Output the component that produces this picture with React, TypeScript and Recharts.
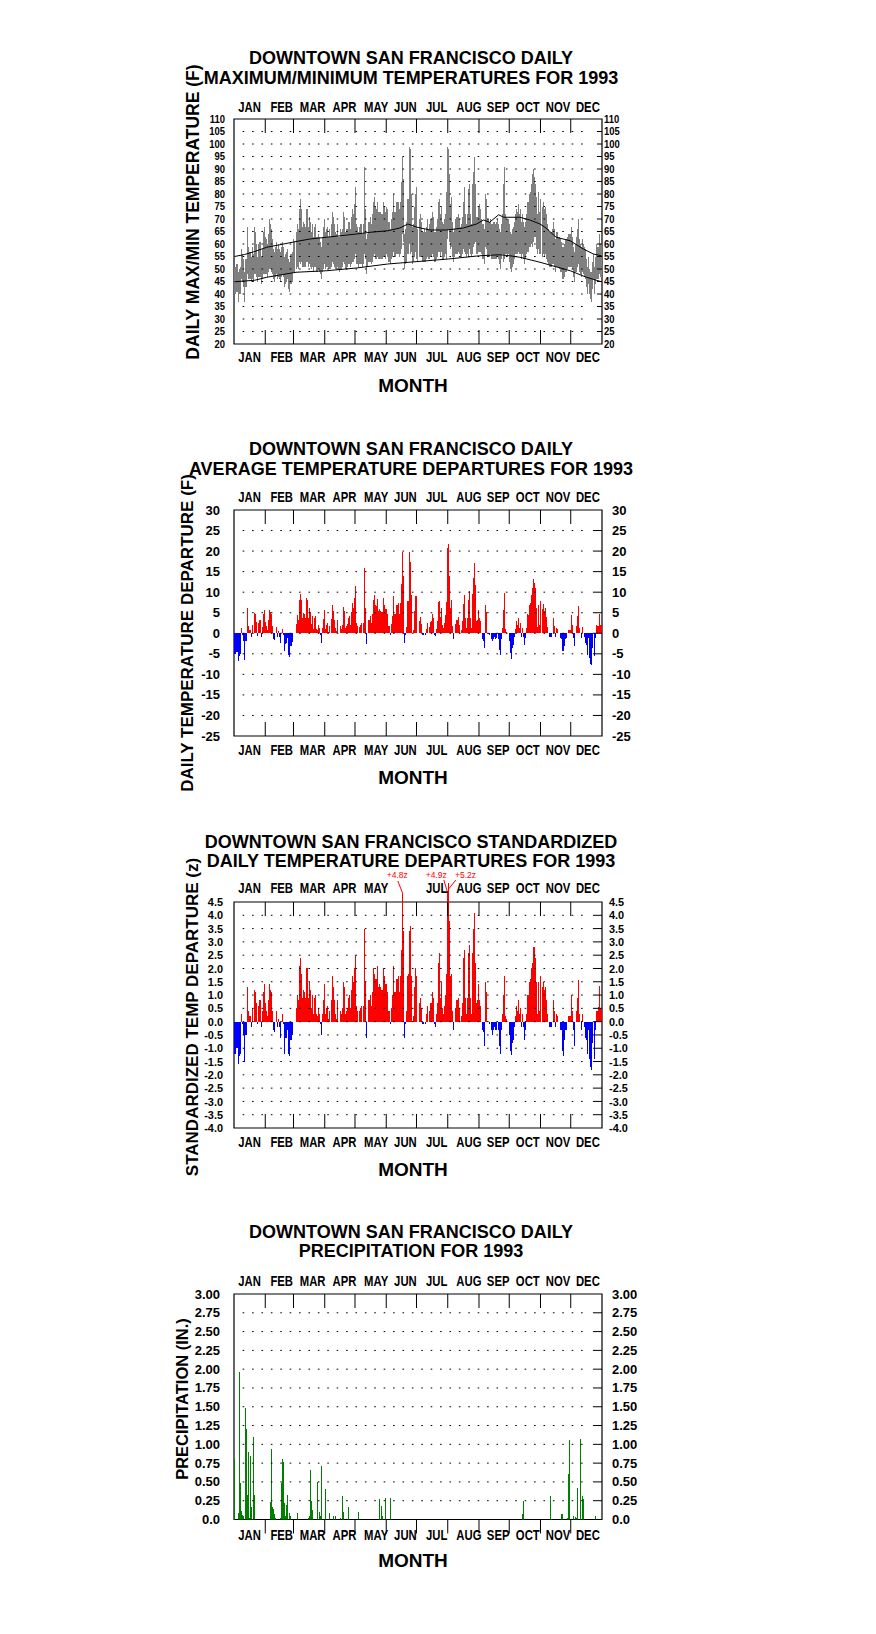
import React from 'react';
import {
  ComposedChart, Bar, Line, XAxis, YAxis, ReferenceLine, ReferenceArea, Cell,
} from 'recharts';

const FONT = "'Liberation Sans', Arial, Helvetica, sans-serif";
const PAGE_W = 876;
const PLOT_L = 234;
const PLOT_R = 602;
const Y_AXIS_W = 20;
const X_AXIS_H = 10;

const MONTH_NAMES = ['JAN', 'FEB', 'MAR', 'APR', 'MAY', 'JUN', 'JUL', 'AUG', 'SEP', 'OCT', 'NOV', 'DEC'];
const MONTH_STARTS = [31, 59, 90, 120, 151, 181, 212, 243, 273, 304, 334];
const MONTH_LABEL_DAYS = [15.5, 47.3, 78, 109.5, 141, 170, 201, 233, 262, 291.4, 321.4, 351];

// daily max / min temperature (F), one value per day of 1993
const DAILY_MAX = [
  51, 51, 52, 52, 49, 50, 51, 58, 56, 54, 49, 54, 54, 67, 59, 57, 57, 55, 59, 56, 67, 65, 60, 55, 60, 61, 61, 55, 58, 65, 67,
  63, 62, 60, 64, 70, 68, 66, 62, 58, 57, 59, 61, 58, 60, 58, 57, 59, 61, 59, 55, 56, 57, 58, 54, 53, 56, 56, 57,
  62, 61, 65, 68, 66, 74, 78, 74, 67, 69, 68, 67, 74, 74, 67, 71, 69, 65, 68, 63, 67, 68, 63, 63, 64, 63, 61, 59, 63, 67, 70,
  65, 66, 67, 63, 66, 63, 68, 73, 71, 68, 65, 64, 68, 63, 63, 66, 65, 66, 73, 71, 65, 66, 66, 69, 69, 66, 71, 74, 72, 76,
  83, 68, 67, 65, 67, 68, 68, 64, 68, 91, 74, 62, 64, 69, 69, 71, 68, 72, 77, 79, 75, 74, 77, 73, 73, 73, 72, 72, 77, 75, 73,
  75, 74, 69, 69, 66, 70, 73, 80, 73, 73, 77, 77, 77, 74, 77, 85, 95, 86, 64, 66, 69, 78, 78, 99, 98, 80, 67, 68, 75, 80,
  83, 66, 70, 72, 69, 65, 65, 66, 65, 67, 70, 66, 68, 70, 70, 73, 71, 65, 65, 67, 70, 77, 78, 72, 75, 69, 68, 70, 72, 81, 99,
  98, 88, 76, 79, 69, 65, 66, 70, 71, 71, 72, 70, 67, 68, 71, 77, 83, 72, 68, 72, 82, 84, 72, 68, 84, 89, 95, 84, 71, 71, 75,
  76, 74, 70, 68, 68, 66, 80, 78, 70, 70, 69, 70, 68, 68, 69, 69, 68, 69, 70, 68, 66, 65, 68, 72, 84, 91, 72, 70, 70, 70,
  68, 65, 64, 66, 67, 69, 72, 74, 73, 76, 72, 74, 69, 72, 69, 67, 69, 72, 77, 77, 80, 81, 84, 88, 90, 87, 84, 79, 72, 81, 73,
  78, 75, 77, 74, 75, 72, 68, 66, 65, 65, 65, 66, 69, 66, 62, 65, 65, 63, 63, 62, 61, 59, 59, 60, 62, 62, 63, 64, 64, 64,
  67, 63, 59, 57, 60, 63, 66, 70, 62, 60, 59, 62, 60, 59, 58, 54, 51, 55, 50, 49, 49, 53, 56, 51, 55, 60, 59, 59, 64, 60, 60,
];
const DAILY_MIN = [
  40, 40, 41, 41, 37, 40, 40, 46, 45, 43, 37, 43, 43, 48, 46, 46, 46, 45, 46, 45, 48, 48, 47, 45, 47, 47, 47, 44, 46, 48, 48,
  48, 48, 47, 49, 50, 50, 49, 48, 46, 45, 47, 48, 46, 47, 46, 45, 47, 48, 47, 43, 44, 45, 46, 42, 41, 44, 44, 45,
  49, 49, 50, 51, 50, 53, 52, 53, 51, 51, 51, 51, 53, 53, 51, 52, 51, 50, 51, 49, 51, 51, 49, 49, 50, 49, 48, 46, 49, 50, 52,
  50, 51, 51, 50, 50, 50, 51, 53, 52, 51, 50, 50, 51, 50, 49, 50, 50, 51, 53, 52, 50, 50, 51, 52, 52, 51, 52, 53, 53, 54,
  56, 52, 52, 51, 52, 52, 52, 51, 52, 56, 54, 48, 51, 53, 53, 53, 52, 53, 55, 56, 54, 54, 55, 54, 54, 54, 54, 54, 55, 55, 54,
  56, 55, 53, 53, 52, 54, 55, 57, 55, 55, 56, 56, 56, 55, 56, 58, 64, 61, 50, 52, 53, 56, 56, 60, 56, 57, 52, 53, 55, 57,
  54, 53, 55, 55, 55, 53, 53, 53, 53, 54, 55, 54, 54, 55, 55, 56, 55, 53, 53, 54, 55, 57, 57, 55, 57, 54, 54, 55, 56, 54, 62,
  66, 61, 58, 59, 55, 53, 55, 56, 56, 56, 57, 56, 55, 55, 56, 58, 57, 56, 55, 56, 55, 58, 56, 55, 56, 59, 60, 61, 56, 56, 57,
  57, 57, 56, 54, 54, 52, 59, 58, 55, 55, 55, 56, 54, 54, 54, 54, 54, 54, 55, 54, 52, 50, 54, 56, 53, 54, 56, 56, 55, 56,
  53, 50, 49, 51, 52, 54, 56, 56, 56, 57, 56, 56, 54, 56, 54, 52, 54, 56, 57, 57, 59, 59, 60, 59, 61, 63, 63, 58, 56, 58, 56,
  56, 55, 56, 55, 56, 54, 53, 52, 51, 51, 51, 52, 52, 51, 49, 51, 51, 51, 50, 49, 49, 46, 46, 47, 49, 49, 50, 51, 51, 51,
  51, 50, 47, 45, 49, 49, 51, 52, 49, 48, 47, 49, 48, 47, 46, 43, 40, 44, 40, 38, 37, 42, 46, 40, 44, 46, 46, 46, 48, 47, 47,
];

// normal max / min curves, read at a set of days
const NORMAL_MAX_DAYS = [0, 10, 20, 32, 45, 61, 75, 91, 105, 121, 135, 152, 164, 172, 181, 194, 210, 227, 240, 247, 253, 262, 267, 283, 293, 303, 309, 319, 333, 346, 356, 364];
const NORMAL_MAX = [55, 55.8, 57, 58.7, 59.7, 61, 62, 62.7, 63.3, 64, 64.7, 65.3, 66.4, 68, 66.7, 65.6, 65.6, 66.4, 68, 69.6, 68.7, 71.7, 70.7, 70.7, 69.6, 68, 66.4, 62.7, 61.3, 58, 56, 55.3];
const NORMAL_MIN_DAYS = [0, 20, 32, 45, 61, 91, 121, 152, 182, 212, 243, 263, 273, 283, 303, 318, 333, 349, 364];
const NORMAL_MIN = [44.9, 45.5, 46.7, 47.6, 48.7, 49.3, 50.4, 52, 53, 54, 55.3, 55.7, 55.3, 54.7, 52.7, 51, 49.3, 46.7, 44.9];

// daily average temperature departure (F)
const DEPARTURE = [
  -5, -5, -4.5, -4.5, -6.8, -5.6, -5, 1.2, -0.3, -2, -6.6, -2, -2,
  6.2, 1.7, 0.7, 0.9, -0.8, 2, 0, 5, 4.7, 2.8, -0.6, 2.5, 3.2, 3.2, -1, 1.5, 4.7, 5.7, 2.8, 1.7, 0.9, 3.3, 5.7, 5.2, 4.7,
  1.7, -1.3, -1.6, 0, 1.5, -0.8, 0.5, -0.8, -2.4, 0, 1.1, -0.3, -4.4, -2.6, -2.4, -1.1, -5.2, -5.7, -3.2, -3.2, -2.1,
  0, 0,
  2.3, 4.4, 3.2, 8.2, 9.6, 8.2, 3.6, 5, 4.6, 3.8,
  8.6, 8.2, 3.8, 6.2, 5.2, 2.3, 4.1, 1.1, 3.8, 4.1,
  1.1, 0.8, 2, 1.3, -0.5, -2.3, 1.3, 3.4, 5.7, 1.1,
  2, 2.5, 0.2, 1.7, 0, 3.5, 7, 5.4, 3.3, 1.3,
  0.5, 3.2, 0, 0, 1.7, 1.1, 2, 6.4, 5.4, 1.3,
  1.7, 2.3, 3.8, 4.1, 2, 5.2, 7.3, 6.2, 8.6, 11.6,
  2.5, 1.7, 0, 1.6, 2, 2.5, 0, 2.5, 15.8, 6.2,
  -2.6, 0, 3.3, 3.3, 4.1, 2.5, 4.7, 8.2, 9.4, 7,
  6.6, 8.4, 5.4, 6, 5.4, 5.2, 5.2, 8.6, 7, 6,
  6, 4.7, 1.7, 1.7, -0.3, 2.3, 4.1, 9, 4.6, 4.6,
  6.8, 6.8, 7.3, 4.7, 7.3, 12, 19.8, 14, -2.4, -0.3,
  1.5, 7.8, 7.8, 19.8, 17.4, 9.3, 0, 0.9, 5.4, 9, 9,
  0, 3.1, 3.9, 2.3, -0.3, -0.5, 0, -0.3, 1.1, 2.5,
  0, 1.5, 2.8, 2.9, 4.7, 3.8, -0.5, -0.7, 1.1, 2.9,
  7.6, 7.8, 3.9, 6.2, 2, 1.3, 2.5, 4.4, 7.6, 20.8,
  21.7, 14, 6.2, 8.1, 1.7, -1.5, 0, 2.3, 3.2, 3.2,
  3.9, 2, 0, 0.9, 3.1, 7.1, 9.2, 3.7, 1.3, 3.6,
  8.1, 10.4, 3.7, 1.3, 9.6, 13.5, 17.1, 11.8, 2.9, 3.3,
  5.7, 3.7, 2.9, 0, -1.5, -1.8, -3.7, 7, 5.2, 0,
  -0.2, -0.5, 0, -1.5, -2, -1.3, -1, -1.5, -1.1, 0,
  -1.5, -4, -5.2, -1.5, 1.3, 5.7, 9.8, 1.1, 0.3, 0,
  0, -2, -4.8, -6.2, -3.6, -2.8, -1, 1.1, 2.9, 2,
  3.7, 1.3, 2.5, -1, 1.3, -1, -2.8, -1.1, 1.3, 4.7,
  4.4, 7, 7.4, 9.4, 10.9, 13.1, 12.3, 11, 6.2, 1.5,
  7, 2, 7.8, 5.8, 7.1, 5.5, 6.2, 3.9, 1.5, 0,
  -1, -1, -1, 0, 3.7, 1.7, -1, 1.3, 1.1, 0,
  0, -1.1, -1.5, -4.2, -4.2, -3.2, -1.3, -1.1, 0, 0.8,
  0.8, 0.9, 4.4, 2, -1.1, -3.2, 0, 1.7, 4.1, 6.6,
  1.3, 0, -1.1, 1.5, 0, -1, -2.4, -2.9, -5.2, -1.1,
  -6, -7.5, -7.8, -3.6, 0, -5.6, -1.1, 2, 1.7, 1.7, 4.7, 2, 2,
];

// standardized departure (z)
const ZSCORE = [
  -1.2, -1.2, -1.0, -1.0, -1.6, -1.3, -1.2, 0.3, -0.1, -0.5, -1.5, -0.5, -0.5,
  1.3, 0.4, 0.2, 0.2, -0.2, 0.5, 0, 1.2, 1.1, 0.7, -0.1, 0.6, 0.8, 0.8, -0.2, 0.4, 1.1, 1.4, 0.7, 0.4, 0.2, 0.8, 1.4, 1.2, 1.1,
  0.4, -0.3, -0.4, 0, 0.4, -0.2, 0.1, -0.2, -0.6, 0, 0.3, -0.1, -1.2, -0.6, -0.6, -0.3, -1.2, -1.3, -0.7, -0.7, -0.5,
  0, 0,
  0.5, 1.0, 0.8, 2.1, 2.4, 1.8, 0.9, 1.2, 1.1, 0.9,
  2.0, 2.0, 0.9, 1.5, 1.2, 0.5, 1.0, 0.3, 0.9, 1.0,
  0.3, 0.2, 0.5, 0.3, -0.1, -0.5, 0.3, 0.8, 1.4, 0.3,
  0.5, 0.6, 0.1, 0.4, 0, 0.8, 1.7, 1.3, 0.8, 0.3,
  0.1, 0.8, 0, 0, 0.4, 0.3, 0.5, 1.5, 1.3, 0.3,
  0.4, 0.5, 0.9, 1.0, 0.5, 1.2, 1.7, 1.5, 2.0, 2.5,
  0.6, 0.4, 0, 0.4, 0.5, 0.6, 0, 0.6, 3.5, 1.5,
  -0.6, 0, 0.8, 0.8, 1.0, 0.6, 1.1, 2.0, 1.8, 1.6,
  1.6, 2.1, 1.3, 1.4, 1.3, 1.2, 1.2, 2.0, 1.7, 1.4,
  1.4, 1.1, 0.4, 0.4, -0.1, 0.5, 1.0, 2.1, 1.1, 1.1,
  1.6, 1.6, 1.7, 1.1, 1.7, 2.7, 4.8, 3.4, -0.6, -0.1,
  0.4, 1.7, 1.8, 3.4, 3.6, 1.7, 0, 0.2, 1.3, 2.0, 1.7,
  0, 0.7, 0.9, 0.5, -0.1, -0.1, 0, -0.1, 0.3, 0.6,
  0, 0.4, 0.7, 0.7, 1.1, 0.9, -0.1, -0.2, 0.3, 0.7,
  2.2, 2.6, 0.9, 1.5, 0.5, 0.3, 0.6, 1.0, 1.8, 4.9,
  5.2, 3.8, 1.7, 1.8, 0.4, -0.3, 0, 0.5, 0.8, 0.8,
  0.9, 0.5, 0, 0.2, 0.7, 2.4, 2.7, 0.9, 0.3, 0.9,
  2.6, 2.9, 0.9, 0.3, 2.6, 3.5, 4.1, 2.2, 0.7, 0.8,
  1.4, 0.8, 0.6, 0, -0.3, -0.4, -0.9, 1.5, 1.1, 0,
  0, -0.1, 0, -0.3, -0.5, -0.3, -0.2, -0.3, -0.3, 0,
  -0.3, -0.9, -1.2, -0.3, 0.3, 1.0, 1.7, 0.2, 0.1, 0,
  0, -0.5, -1.1, -1.25, -0.8, -0.7, -0.2, 0.2, 0.6, 0.4,
  0.8, 0.3, 0.5, -0.2, 0.3, -0.2, -0.7, -0.3, 0.3, 1.0,
  1.0, 1.5, 1.6, 2.0, 2.2, 2.8, 2.8, 2.4, 1.5, 0.3,
  1.5, 0.4, 1.7, 1.3, 1.5, 1.2, 1.3, 0.8, 0.3, 0,
  -0.2, -0.2, -0.2, 0, 0.8, 0.4, -0.2, 0.3, 0.2, 0,
  0, -0.3, -0.3, -1.1, -1.3, -0.7, -0.3, -0.3, 0, 0.2,
  0.2, 0.2, 1.0, 0.4, -0.3, -0.9, 0, 0.4, 0.9, 1.55,
  0.3, 0, -0.3, 0.3, 0, -0.2, -0.6, -0.7, -1.2, -0.3,
  -1.4, -1.7, -1.8, -0.8, 0, -1.4, -0.3, 0.4, 0.4, 0.55, 1.35, 0.5, 0.5,
];

// precipitation (in.), only the days with rain
const PRECIP_DAYS = [
  0, 4, 5, 6, 7, 8, 9, 11, 12, 13, 14, 15, 16, 17, 18, 19, 20, 36, 37, 38, 39, 40, 41,
  46, 47, 48, 49, 50, 51, 52, 53, 55, 56, 62, 73, 74, 75, 76, 77, 82, 84, 85, 86, 90,
  94, 98, 100, 105, 107, 108, 113, 123, 144, 146, 147, 150, 155, 286, 287, 313, 314,
  324, 325, 330, 331, 332, 336, 338, 339, 340, 343, 345, 346, 358,
];
const PRECIP_IN = [
  0.80, 0.09, 1.96, 0.49, 0.11, 0.06, 0.04, 1.48, 1.20, 0.32, 0.90, 0.02, 0.84, 0.17, 0.01, 1.10, 0.32, 0.23, 0.94, 0.16, 0.14, 0.07, 0.02,
  0.02, 0.48, 0.81, 0.77, 0.22, 0.04, 0.19, 0.32, 0.08, 0.05, 0.08, 0.02, 0.04, 0.66, 0.24, 0.12, 0.50, 0.10, 0.04, 0.71, 0.40,
  0.08, 0.04, 0.04, 0.02, 0.31, 0.10, 0.16, 0.10, 0.27, 0.18, 0.05, 0.28, 0.28, 0.07, 0.24, 0.31, 0.01,
  0.07, 0.07, 0.02, 0.61, 1.06, 0.04, 0.03, 0.02, 0.42, 1.07, 0.31, 0.27, 0.04,
];

const TEMP_TICKS = [20, 25, 30, 35, 40, 45, 50, 55, 60, 65, 70, 75, 80, 85, 90, 95, 100, 105, 110];
const DEP_TICKS = [-25, -20, -15, -10, -5, 0, 5, 10, 15, 20, 25, 30];
const Z_TICKS = [-4, -3.5, -3, -2.5, -2, -1.5, -1, -0.5, 0, 0.5, 1, 1.5, 2, 2.5, 3, 3.5, 4, 4.5];
const PRECIP_TICKS = [0, 0.25, 0.5, 0.75, 1, 1.25, 1.5, 1.75, 2, 2.25, 2.5, 2.75, 3];

const TITLES = [
  ['DOWNTOWN SAN FRANCISCO DAILY', 'MAXIMUM/MINIMUM TEMPERATURES FOR 1993'],
  ['DOWNTOWN SAN FRANCISCO DAILY', 'AVERAGE TEMPERATURE DEPARTURES FOR 1993'],
  ['DOWNTOWN SAN FRANCISCO STANDARDIZED', 'DAILY TEMPERATURE DEPARTURES FOR 1993'],
  ['DOWNTOWN SAN FRANCISCO DAILY', 'PRECIPITATION FOR 1993'],
];
const Y_TITLES = [
  'DAILY MAX/MIN TEMPERATURE (F)',
  'DAILY TEMPERATURE DEPARTURE (F)',
  'STANDARDIZED TEMP DEPARTURE (z)',
  'PRECIPITATION (IN.)',
];
const Z_NOTES = ['+4.8z', '+4.9z', '+5.2z'];

// page layout (absolute px)
const TITLE_Y = [[64, 84], [455, 475], [848, 867], [1238, 1257]];
const MONTH_Y = [392, 784, 1176, 1567];
const Y_TITLE_POS = [[193, 212], [187.5, 633], [192, 1017], [181.5, 1399]];
const Y_TITLE_SIZE = [17.5, 17, 17, 16.5];

// plot box spans PLOT_L..PLOT_R; axes take Y_AXIS_W on the left and X_AXIS_H below
const margin = (top: number, bottom: number) => ({
  top, bottom: bottom - X_AXIS_H, left: PLOT_L - Y_AXIS_W, right: PAGE_W - PLOT_R,
});

const monthTick = (topY: number, bottomY: number, skipTop: string[] = []) => (p: any) => {
  const name = MONTH_NAMES[MONTH_LABEL_DAYS.indexOf(p.payload.value)] ?? '';
  const style = { fontFamily: FONT, fontWeight: 700, fontSize: 14.5, fill: '#000' };
  return (
    <g>
      {!skipTop.includes(name) && (
        <text transform={`translate(${p.x},${topY}) scale(0.78,1)`} textAnchor="middle" {...style}>{name}</text>
      )}
      <text transform={`translate(${p.x},${bottomY}) scale(0.78,1)`} textAnchor="middle" {...style}>{name}</text>
    </g>
  );
};

const valueTick = (leftX: number, rightX: number, size: number, sx: number, fmt: (v: number) => string) => (p: any) => {
  const label = fmt(p.payload.value);
  const style = { fontFamily: FONT, fontWeight: 700, fontSize: size, fill: '#000' };
  return (
    <g>
      <text transform={`translate(${leftX},${p.y}) scale(${sx},1)`} textAnchor="end" dominantBaseline="central" {...style}>{label}</text>
      <text transform={`translate(${rightX},${p.y}) scale(${sx},1)`} textAnchor="start" dominantBaseline="central" {...style}>{label}</text>
    </g>
  );
};

function gridRows(values: number[], tickFrom: number) {
  return values.flatMap((v) => [
    <ReferenceLine key={`g${v}`} segment={[{ x: 8.6, y: v }, { x: 351, y: v }]} stroke="#000" strokeDasharray="1.6 7.8" ifOverflow="visible" />,
    <ReferenceLine key={`r${v}`} segment={[{ x: tickFrom, y: v }, { x: 365, y: v }]} stroke="#000" ifOverflow="visible" />,
  ]);
}

function monthTickLines(hi: number, lo: number, len: number, bottomOut = false) {
  return MONTH_STARTS.flatMap((m) => [
    <ReferenceLine key={`t${m}`} segment={[{ x: m, y: hi }, { x: m, y: hi - len }]} stroke="#000" ifOverflow="visible" />,
    <ReferenceLine key={`b${m}`} segment={[{ x: m, y: lo }, { x: m, y: bottomOut ? lo - len : lo + len }]} stroke="#000" ifOverflow="visible" />,
  ]);
}

const frame = (lo: number, hi: number) => (
  <ReferenceArea x1={0} x2={365} y1={lo} y2={hi} fill="none" stroke="#000" strokeWidth={1.2} ifOverflow="visible" />
);

const xAxis = (topY: number, bottomY: number, skipTop: string[] = []) => (
  <XAxis dataKey="x" type="number" domain={[0, 365]} ticks={MONTH_LABEL_DAYS} interval={0} height={X_AXIS_H}
    axisLine={false} tickLine={false} tick={monthTick(topY, bottomY, skipTop)} />
);

const yAxis = (domain: [number, number], ticks: number[], tick: (p: any) => React.ReactElement) => (
  <YAxis type="number" domain={domain} ticks={ticks} interval={0} width={Y_AXIS_W} allowDataOverflow
    axisLine={false} tickLine={false} tick={tick} />
);

const chartProps = { width: PAGE_W, barCategoryGap: 0, barGap: 0 };

function TempRangePanel() {
  const data = DAILY_MAX.map((hi, i) => ({ x: i + 0.5, range: [DAILY_MIN[i], hi] }));
  const normMax = NORMAL_MAX_DAYS.map((d, i) => ({ x: d + 0.5, v: NORMAL_MAX[i] }));
  const normMin = NORMAL_MIN_DAYS.map((d, i) => ({ x: d + 0.5, v: NORMAL_MIN[i] }));
  return (
    <div style={{ position: 'absolute', left: 0, top: 0 }}>
      <ComposedChart {...chartProps} height={400} data={data} margin={margin(119, 56)}>
        {xAxis(112, 362)}
        {yAxis([20, 110], TEMP_TICKS, valueTick(225, 604, 11, 0.86, (v) => String(v)))}
        {gridRows(TEMP_TICKS.slice(1, -1), 360)}
        <Bar dataKey="range" fill="#808080" isAnimationActive={false} shapeRendering="crispEdges" />
        <Line data={normMax} dataKey="v" type="linear" stroke="#000" strokeWidth={1} dot={false} activeDot={false} isAnimationActive={false} />
        <Line data={normMin} dataKey="v" type="linear" stroke="#000" strokeWidth={1} dot={false} activeDot={false} isAnimationActive={false} />
        {monthTickLines(110, 20, 5.6)}
        {frame(20, 110)}
      </ComposedChart>
    </div>
  );
}

function DeparturePanel() {
  const data = DEPARTURE.map((v, i) => ({ x: i + 0.5, v }));
  return (
    <div style={{ position: 'absolute', left: 0, top: 400 }}>
      <ComposedChart {...chartProps} height={400} data={data} margin={margin(110, 64)}>
        {xAxis(102, 355)}
        {yAxis([-25, 30], DEP_TICKS, valueTick(220, 612, 13, 1, (v) => String(v)))}
        {gridRows(DEP_TICKS.slice(1, -1), 356)}
        <Bar dataKey="v" isAnimationActive={false} shapeRendering="crispEdges">
          {data.map((d, i) => <Cell key={i} fill={d.v >= 0 ? '#ff0000' : '#0000ff'} />)}
        </Bar>
        {monthTickLines(30, -25, 3.4)}
        {frame(-25, 30)}
      </ComposedChart>
    </div>
  );
}

function ZScorePanel() {
  const data = ZSCORE.map((v, i) => ({ x: i + 0.5, v }));
  return (
    <div style={{ position: 'absolute', left: 0, top: 800 }}>
      <ComposedChart {...chartProps} height={400} data={data} margin={margin(70.1, 72)}>
        {xAxis(93, 347, ['JUN'])}
        {yAxis([-4, 5.7], Z_TICKS, valueTick(223, 609, 11.5, 0.95, (v) => v.toFixed(1)))}
        {gridRows(Z_TICKS.slice(1, -1), 356)}
        <Bar dataKey="v" isAnimationActive={false} shapeRendering="crispEdges">
          {data.map((d, i) => <Cell key={i} fill={d.v >= 0 ? '#ff0000' : '#0000ff'} />)}
        </Bar>
        {monthTickLines(4.5, -4, 0.53)}
        {frame(-4, 4.5)}
        <ReferenceLine segment={[{ x: 162.5, y: 5.29 }, { x: 167.5, y: 4.8 }]} stroke="#ff0000" ifOverflow="visible" />
        <ReferenceLine segment={[{ x: 208.1, y: 5.33 }, { x: 211.5, y: 4.9 }]} stroke="#ff0000" ifOverflow="visible" />
        <ReferenceLine segment={[{ x: 220, y: 5.33 }, { x: 213.2, y: 5.0 }]} stroke="#ff0000" ifOverflow="visible" />
      </ComposedChart>
    </div>
  );
}

function PrecipPanel() {
  const data = PRECIP_DAYS.map((d, i) => ({ x: d + 0.5, v: PRECIP_IN[i] }));
  return (
    <div style={{ position: 'absolute', left: 0, top: 1200 }}>
      <ComposedChart {...chartProps} height={434} data={data} margin={margin(94, 114.5)}>
        {xAxis(85.5, 340)}
        {yAxis([0, 3], PRECIP_TICKS, valueTick(220, 612, 13, 1, (v) => (v === 0 ? '0.0' : v.toFixed(2))))}
        {gridRows(PRECIP_TICKS.slice(1, -1), 356)}
        <Bar dataKey="v" fill="#008000" isAnimationActive={false} shapeRendering="crispEdges" />
        {monthTickLines(3, 0, 0.186, true)}
        {frame(0, 3)}
      </ComposedChart>
    </div>
  );
}

function TextLayer() {
  const bold = { fontFamily: FONT, fontWeight: 700, fill: '#000' };
  return (
    <svg width={PAGE_W} height={1634} style={{ position: 'absolute', left: 0, top: 0, pointerEvents: 'none' }}>
      {TITLES.map((lines, i) => lines.map((t, j) => (
        <text key={`t${i}${j}`} x={411} y={TITLE_Y[i][j]} textAnchor="middle" fontSize={18} {...bold}>{t}</text>
      )))}
      {MONTH_Y.map((y, i) => (
        <text key={`m${i}`} x={413} y={y} textAnchor="middle" fontSize={19} {...bold}>MONTH</text>
      ))}
      {Y_TITLES.map((t, i) => (
        <text key={`y${i}`} transform={`translate(${Y_TITLE_POS[i][0]},${Y_TITLE_POS[i][1]}) rotate(-90)`}
          textAnchor="middle" dominantBaseline="central" fontSize={Y_TITLE_SIZE[i]} {...bold}>{t}</text>
      ))}
      <text x={386.7} y={878.3} fontSize={8.5} fontFamily={FONT} fill="#ff0000">{Z_NOTES[0]}</text>
      <text x={425.7} y={878.3} fontSize={8.5} fontFamily={FONT} fill="#ff0000">{Z_NOTES[1]}</text>
      <text x={455} y={878.3} fontSize={8.5} fontFamily={FONT} fill="#ff0000">{Z_NOTES[2]}</text>
    </svg>
  );
}

export default function App() {
  return (
    <div style={{ position: 'absolute', left: 0, top: 0, width: PAGE_W, height: 1634, background: '#fff' }}>
      <TempRangePanel />
      <DeparturePanel />
      <ZScorePanel />
      <PrecipPanel />
      <TextLayer />
    </div>
  );
}
